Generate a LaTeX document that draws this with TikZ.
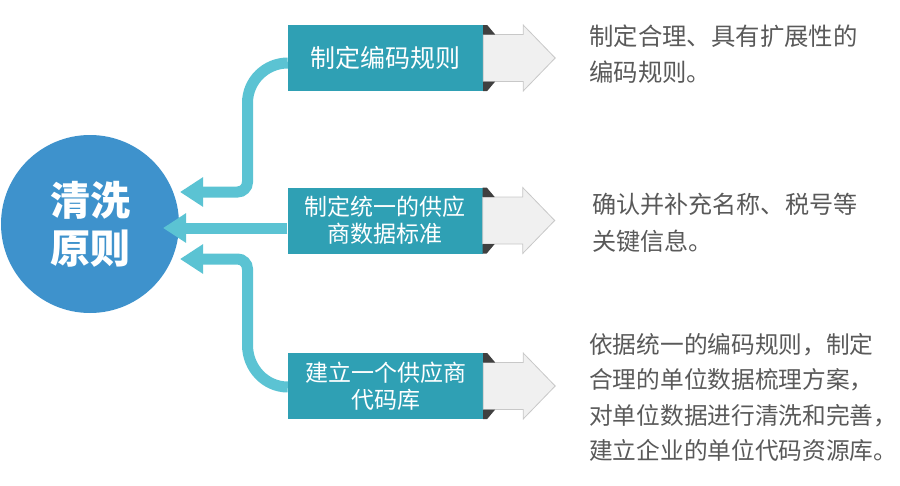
\documentclass[tikz,border=0pt]{standalone}
\usepackage{fontspec}
\setmainfont{Noto Sans CJK SC}
\usetikzlibrary{arrows.meta,calc}
\definecolor{circblue}{RGB}{62,146,204}
\definecolor{boxteal}{RGB}{47,160,180}
\definecolor{linkcyan}{RGB}{91,195,211}
\definecolor{chevfill}{RGB}{240,240,240}
\definecolor{chevline}{RGB}{200,200,200}
\definecolor{folddark}{RGB}{64,64,64}
\definecolor{desc}{RGB}{89,89,89}
\tikzset{
  stepbox/.style={fill=boxteal, text=white, minimum width=195pt, minimum height=66pt,
    inner sep=0pt, align=center, font=\fontsize{23}{27}\selectfont},
  link/.style={draw=linkcyan, line width=11pt, -{Triangle[length=23pt,width=28pt]}},
  chev/.style={fill=chevfill, draw=chevline, line width=0.8pt, line join=miter},
  fold/.style={fill=folddark},
  desctext/.style={anchor=north west, inner sep=0pt, align=left, text=desc,
    font=\fontsize{23.7}{35.5}\selectfont}
}
\begin{document}
\begin{tikzpicture}[x=1pt,y=-1pt]
\useasboundingbox (0,0) rectangle (900,485);
% central circle
\node[circle, fill=circblue, minimum size=178pt, inner sep=0pt, text=white, align=center,
  font=\fontsize{40}{48}\selectfont\bfseries] (c) at (90,224) {清洗\\原则};
% boxes (placed first so connectors can reference them; drawn on top later)
\node[stepbox, font=\fontsize{25}{27}\selectfont] (b1) at (385.5,58) {制定编码规则};
\node[stepbox] (b2) at (385,220.5) {制定统一的供应\\商数据标准};
\node[stepbox] (b3) at (385.5,386) {建立一个供应商\\代码库};
% arrow tips
\coordinate (t1) at (180,192);
\coordinate (t2) at (163,228);
\coordinate (t3) at (180,259);
% connectors
\draw[link] ($(b1.west)+(0,5)$) to[out=180,in=90] (247.5,103) -- (247.5,182)
  to[out=-90,in=0] (237.5,192) -- (t1);
\draw[link] ($(b2.west)+(0,7.5)$) -- (t2);
\draw[link] ($(b3.west)+(0,1)$) to[out=180,in=-90] (247.5,345) -- (247.5,269)
  to[out=90,in=0] (237.5,259) -- (t3);
% redraw boxes on top
\node[stepbox, font=\fontsize{25}{27}\selectfont] at (b1) {制定编码规则};
\node[stepbox] at (b2) {制定统一的供应\\商数据标准};
\node[stepbox] at (b3) {建立一个供应商\\代码库};
% chevrons
\foreach \b in {b1,b2,b3}{
  \begin{scope}[shift={(\b.east)}]
    \draw[chev] (0,-23.5) -- (40,-23.5) -- (40,-33) -- (72,0) -- (40,33) -- (40,23.5) -- (0,23.5) -- cycle;
    \fill[fold] (0,-33) -- (4,-33) -- (12,-23.5) -- (0,-23.5) -- cycle;
    \fill[fold] (0,33) -- (4,33) -- (12,23.5) -- (0,23.5) -- cycle;
  \end{scope}
}
% descriptions
\node[desctext, font=\fontsize{24.4}{35.5}\selectfont] (d1) at (589,25) {制定合理、具有扩展性的\\编码规则。};
\node[desctext, font=\fontsize{24.1}{37}\selectfont] (d2) at (592,193) {确认并补充名称、税号等\\关键信息。};
\node[desctext] (d3) at (589,333) {依据统一的编码规则，制定\\合理的单位数据梳理方案，\\对单位数据进行清洗和完善，\\建立企业的单位代码资源库。};
\end{tikzpicture}
\end{document}
